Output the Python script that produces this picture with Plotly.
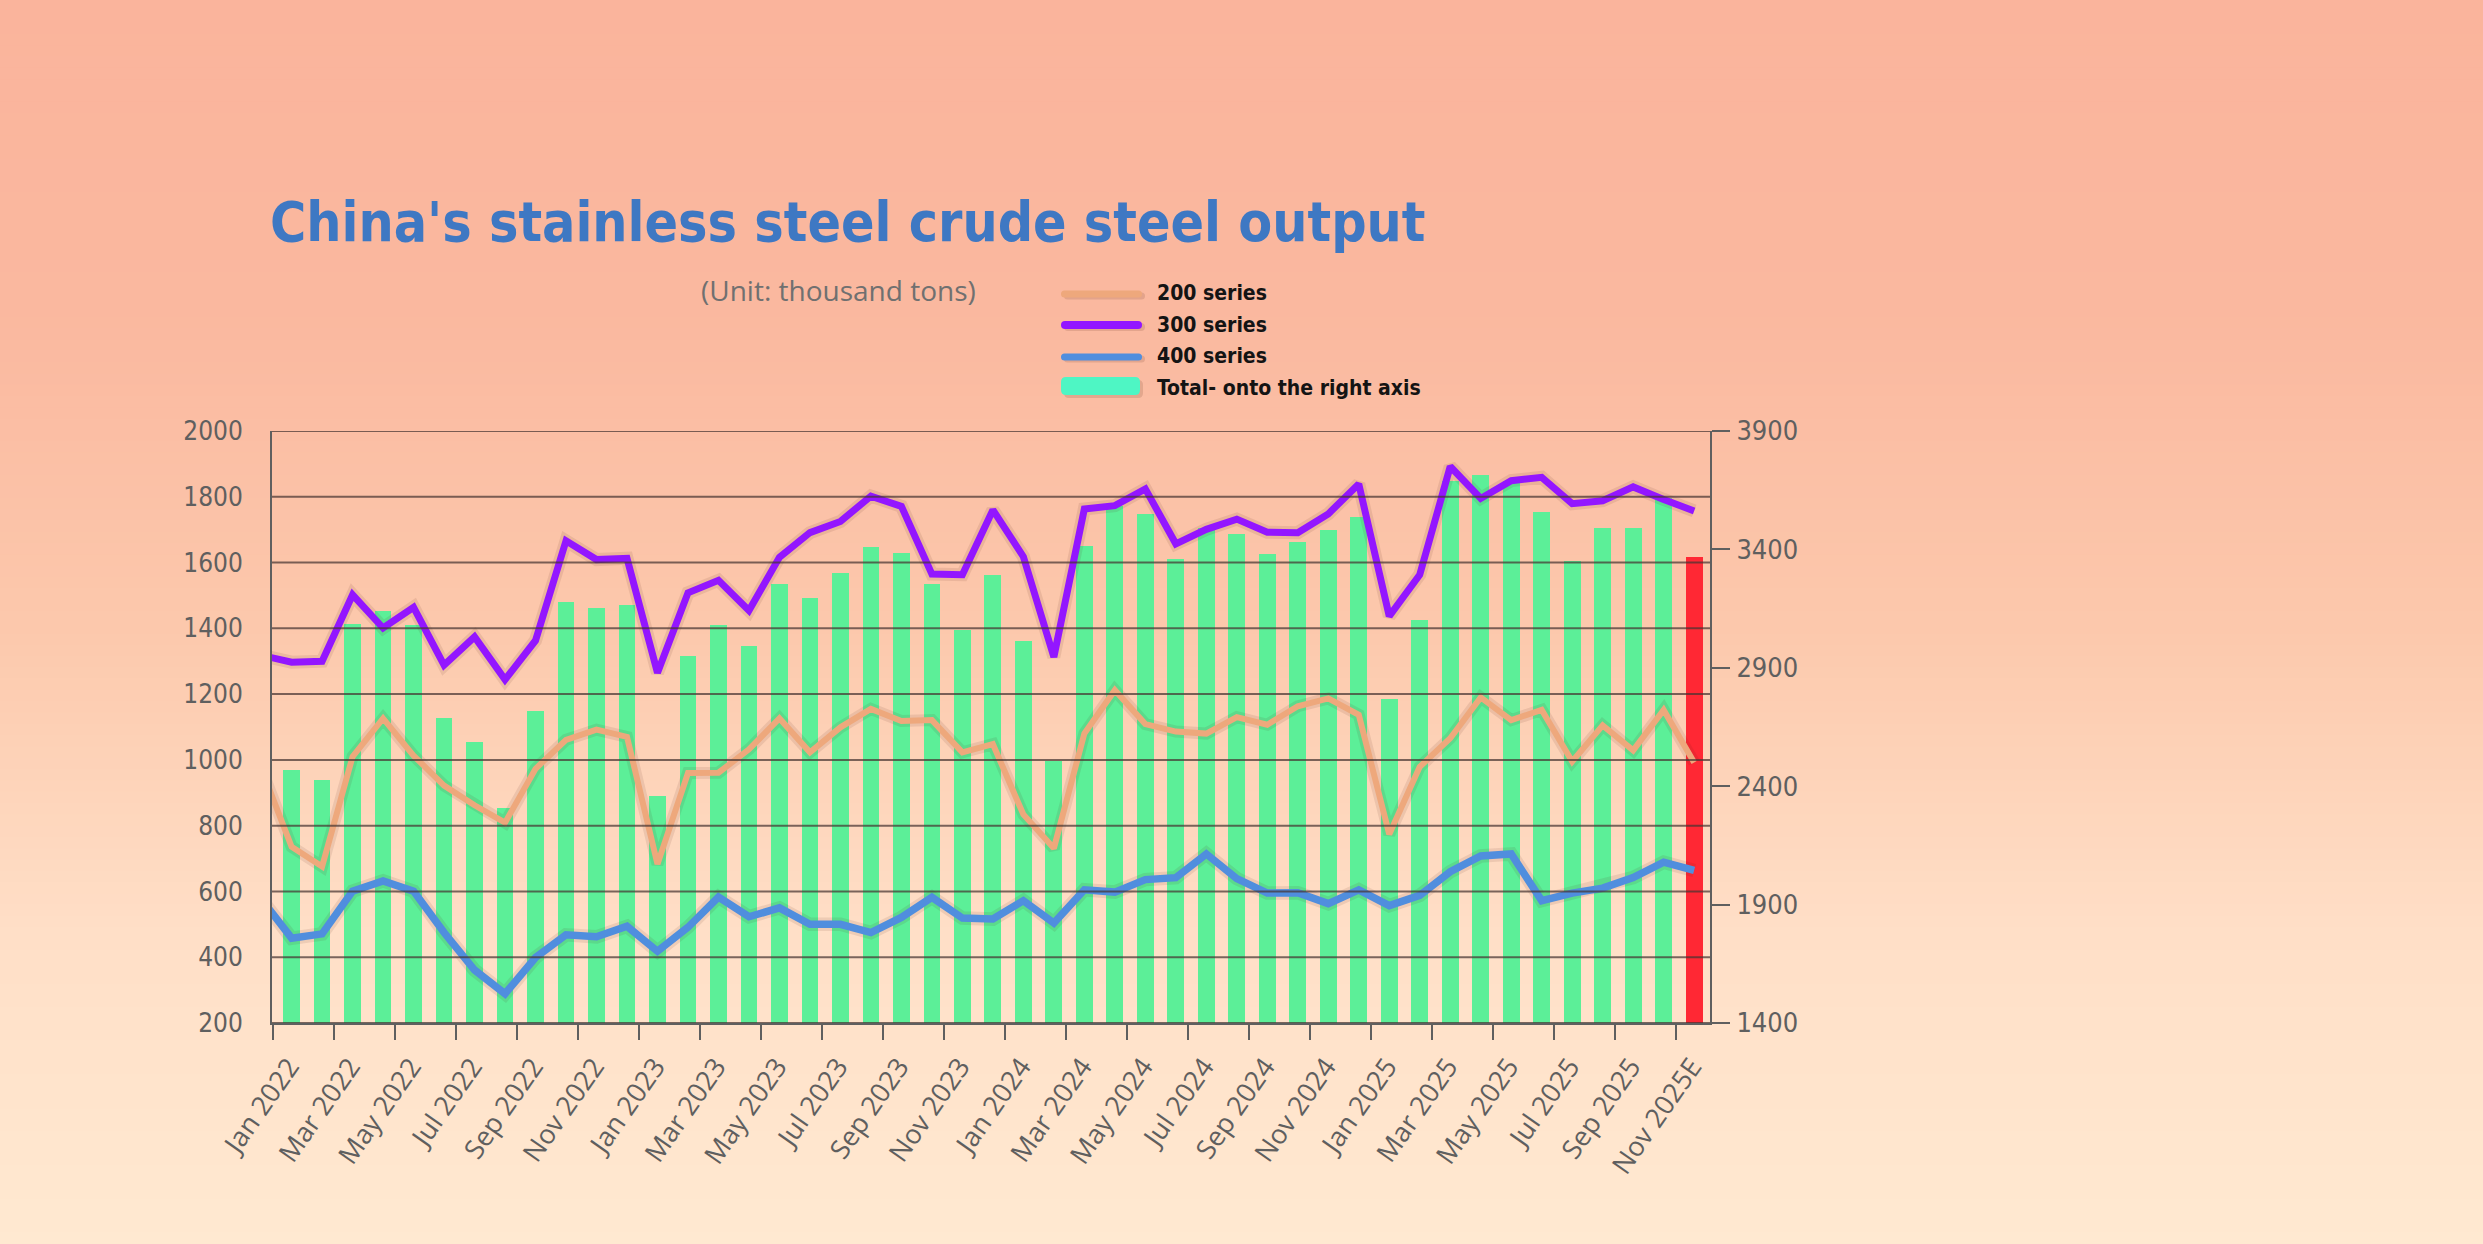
import plotly.graph_objects as go

# ---------------- data ----------------
months = [
    "Jan 2022", "Feb 2022", "Mar 2022", "Apr 2022", "May 2022", "Jun 2022",
    "Jul 2022", "Aug 2022", "Sep 2022", "Oct 2022", "Nov 2022", "Dec 2022",
    "Jan 2023", "Feb 2023", "Mar 2023", "Apr 2023", "May 2023", "Jun 2023",
    "Jul 2023", "Aug 2023", "Sep 2023", "Oct 2023", "Nov 2023", "Dec 2023",
    "Jan 2024", "Feb 2024", "Mar 2024", "Apr 2024", "May 2024", "Jun 2024",
    "Jul 2024", "Aug 2024", "Sep 2024", "Oct 2024", "Nov 2024", "Dec 2024",
    "Jan 2025", "Feb 2025", "Mar 2025", "Apr 2025", "May 2025", "Jun 2025",
    "Jul 2025", "Aug 2025", "Sep 2025", "Oct 2025", "Nov 2025E",
]

series_200 = [736, 676, 1010, 1126, 1013, 922, 862, 809, 973, 1061, 1092, 1070,
              683, 960, 961, 1032, 1126, 1023, 1099, 1155, 1118, 1121, 1023, 1048,
              834, 731, 1080, 1212, 1109, 1086, 1080, 1130, 1107, 1163, 1187, 1137,
              774, 979, 1066, 1190, 1121, 1152, 995, 1105, 1029, 1152, 992]

series_300 = [1297, 1300, 1502, 1401, 1464, 1288, 1374, 1244, 1363, 1666, 1609, 1613,
              1265, 1508, 1546, 1454, 1616, 1691, 1725, 1802, 1771, 1565, 1563, 1760,
              1618, 1313, 1763, 1773, 1824, 1657, 1701, 1732, 1692, 1691, 1748, 1839,
              1437, 1563, 1892, 1795, 1849, 1859, 1779, 1788, 1830, 1792, 1757]

series_400 = [458, 471, 601, 632, 601, 475, 361, 289, 399, 468, 462, 494,
              418, 491, 583, 523, 550, 500, 500, 475, 521, 582, 519, 516,
              572, 504, 605, 598, 636, 642, 714, 639, 595, 596, 563, 605,
              557, 588, 660, 708, 714, 572, 595, 610, 642, 689, 664]

total = [2468, 2428, 3086, 3138, 3081, 2687, 2587, 2309, 2718, 3179, 3152, 3165,
         2359, 2949, 3081, 2993, 3254, 3194, 3301, 3410, 3384, 3254, 3060, 3293,
         3012, 2505, 3415, 3585, 3550, 3361, 3490, 3466, 3380, 3431, 3483, 3538,
         2767, 3100, 3690, 3713, 3690, 3559, 3352, 3492, 3492, 3618, 3366]

# the lines enter the plot from the previous month (Dec 2021), clipped at the axis
prev_label = "Dec 2021"
prev_200 = 975
prev_300 = 1318
prev_400 = 577

left_ticks = [200, 400, 600, 800, 1000, 1200, 1400, 1600, 1800, 2000]
right_ticks = [1400, 1900, 2400, 2900, 3400, 3900]

# ---------------- styling ----------------
W, H = 2483, 1244
C200 = "rgb(238,168,124)"
C300 = "rgb(147,22,255)"
C400 = "rgb(80,142,222)"
GREEN = "rgb(92,239,152)"
RED = "rgb(255,40,52)"
GRAY = "rgb(95,95,95)"
GRID = "rgba(70,52,50,0.72)"
NARROW = "Liberation Sans Narrow, DejaVu Sans Condensed, Open Sans, sans-serif"

n = len(months)
idx = list(range(n))
line_x = [-1] + idx

fig = go.Figure()

# bars on the base (right-hand) axis, lines on the overlaying (left-hand) axis
bar_colors = [GREEN] * (n - 1) + [RED]
fig.add_trace(go.Bar(
    x=idx, y=total, yaxis="y", width=0.55,
    marker=dict(color=bar_colors, line=dict(width=0)),
    name="Total- onto the right axis", showlegend=False,
))

line_specs = [
    ("200 series", prev_200, series_200, C200, 6),
    ("300 series", prev_300, series_300, C300, 7),
    ("400 series", prev_400, series_400, C400, 7.5),
]
for name, prev, vals, col, w in line_specs:
    # soft shadow under the line
    fig.add_trace(go.Scatter(
        x=line_x, y=[prev] + vals, mode="lines", yaxis="y2", hoverinfo="skip",
        line=dict(color="rgba(90,40,30,0.10)", width=w + 6),
        showlegend=False,
    ))
    fig.add_trace(go.Scatter(
        x=line_x, y=[prev] + vals, mode="lines", name=name, yaxis="y2",
        line=dict(color=col, width=w, shape="linear"),
        showlegend=False,
    ))

# ---------------- background gradient ----------------
stops = [(0.0, (250, 180, 156)), (0.25, (250, 184, 159)), (0.5, (252, 200, 172)),
         (0.75, (255, 223, 199)), (1.0, (255, 233, 209))]


def grad_color(t):
    for (t0, c0), (t1, c1) in zip(stops[:-1], stops[1:]):
        if t <= t1:
            f = (t - t0) / (t1 - t0)
            return "rgb(%d,%d,%d)" % tuple(round(a + (b - a) * f) for a, b in zip(c0, c1))
    return "rgb(%d,%d,%d)" % stops[-1][1]


shapes = []
NS = 110
for k in range(NS):
    t = (k + 0.5) / NS
    shapes.append(dict(type="rect", xref="paper", yref="paper",
                       x0=-0.01, x1=1.01, y0=1 - (k + 1) / NS - 0.002,
                       y1=1 - k / NS + (0.01 if k == 0 else 0),
                       fillcolor=grad_color(t), line=dict(width=0), layer="below"))

# gridlines drawn over the bars (as in the original)
for v in left_ticks:
    shapes.append(dict(type="line", xref="x domain", yref="y2", x0=0, x1=1, y0=v, y1=v,
                       line=dict(color=GRID, width=2), layer="above"))


# ---------------- manual legend ----------------
def px(x):
    return x / W


def py(y):
    return 1 - y / H


def rrect(x0, y0, x1, y1, r):
    rx, ry = r / W, r / H
    X0, X1, Y0, Y1 = px(x0), px(x1), py(y1), py(y0)
    return (f"M {X0+rx},{Y0} L {X1-rx},{Y0} Q {X1},{Y0} {X1},{Y0+ry} "
            f"L {X1},{Y1-ry} Q {X1},{Y1} {X1-rx},{Y1} L {X0+rx},{Y1} "
            f"Q {X0},{Y1} {X0},{Y1-ry} L {X0},{Y0+ry} Q {X0},{Y0} {X0+rx},{Y0} Z")


legend_items = [("200 series", C200, 294, 7), ("300 series", C300, 325, 8),
                ("400 series", C400, 357, 7)]
for label, col, yc, th in legend_items:
    shapes.append(dict(type="path", xref="paper", yref="paper",
                       path=rrect(1064, yc - th / 2 + 2, 1145, yc + th / 2 + 2, th / 2),
                       fillcolor="rgba(120,70,50,0.18)", line=dict(width=0)))
    shapes.append(dict(type="path", xref="paper", yref="paper",
                       path=rrect(1061, yc - th / 2, 1142, yc + th / 2, th / 2),
                       fillcolor=col, line=dict(width=0)))
shapes.append(dict(type="path", xref="paper", yref="paper",
                   path=rrect(1064, 380, 1143, 398, 5),
                   fillcolor="rgba(120,70,50,0.18)", line=dict(width=0)))
shapes.append(dict(type="path", xref="paper", yref="paper",
                   path=rrect(1061, 377, 1140, 395, 5),
                   fillcolor="rgb(78,246,196)", line=dict(width=0)))

legend_labels = ["200 series", "300 series", "400 series", "Total- onto the right axis"]
legend_y = [293, 325, 356, 388]

annotations = [
    dict(text="China's stainless steel crude steel output", x=px(268), y=py(222),
         xref="paper", yref="paper", xanchor="left", yanchor="middle", showarrow=False,
         font=dict(family=NARROW, size=55, color="rgb(62,120,195)", weight=700)),
    dict(text="(Unit: thousand tons)", x=px(838), y=py(290),
         xref="paper", yref="paper", xanchor="center", yanchor="middle", showarrow=False,
         font=dict(family="Open Sans", size=28, color="rgb(112,112,112)")),
]
for lab, yc in zip(legend_labels, legend_y):
    annotations.append(dict(text=lab, x=px(1155), y=py(yc), xref="paper", yref="paper",
                            xanchor="left", yanchor="middle", showarrow=False,
                            font=dict(family=NARROW, size=21, color="rgb(20,20,20)",
                                      weight=700)))

fig.update_layout(
    width=W, height=H,
    margin=dict(l=0, r=0, t=0, b=0, pad=0, autoexpand=False),
    paper_bgcolor="rgb(252,200,172)",
    plot_bgcolor="rgba(0,0,0,0)",
    showlegend=False,
    bargap=0,
    shapes=shapes,
    annotations=annotations,
    xaxis=dict(
        domain=[272 / W, 1710 / W],
        range=[-0.643, 46.52],
        tickmode="array",
        tickvals=[i - 0.6 for i in idx[::2]],
        ticktext=months[::2],
        tickangle=-55,
        ticks="outside", ticklen=15, tickwidth=2, tickcolor=GRAY,
        showline=True, linecolor=GRAY, linewidth=2,
        showgrid=False, zeroline=False, automargin=False,
        tickfont=dict(family="Open Sans", size=27, color=GRAY),
        ticklabelshift=16,
    ),
    yaxis=dict(
        domain=[(H - 1023) / H, (H - 431) / H],
        side="right",
        range=[1400, 3900],
        tickmode="array", tickvals=right_ticks,
        showgrid=False, zeroline=False, automargin=False,
        showline=True, linecolor=GRAY, linewidth=2,
        ticks="outside", ticklen=18, tickwidth=2, tickcolor=GRAY,
        ticklabelstandoff=1,
        tickfont=dict(family=NARROW, size=27, color=GRAY),
    ),
    yaxis2=dict(
        overlaying="y", side="left",
        range=[200, 2000],
        tickmode="array", tickvals=left_ticks,
        showgrid=False, zeroline=False, automargin=False,
        showline=True, linecolor=GRAY, linewidth=2,
        ticks="", ticklabelstandoff=22,
        tickfont=dict(family=NARROW, size=26, color=GRAY),
    ),
)

fig.write_html("out.html", config={"displayModeBar": False},
               post_script="document.body.style.margin='0';document.body.style.overflow='hidden';")
